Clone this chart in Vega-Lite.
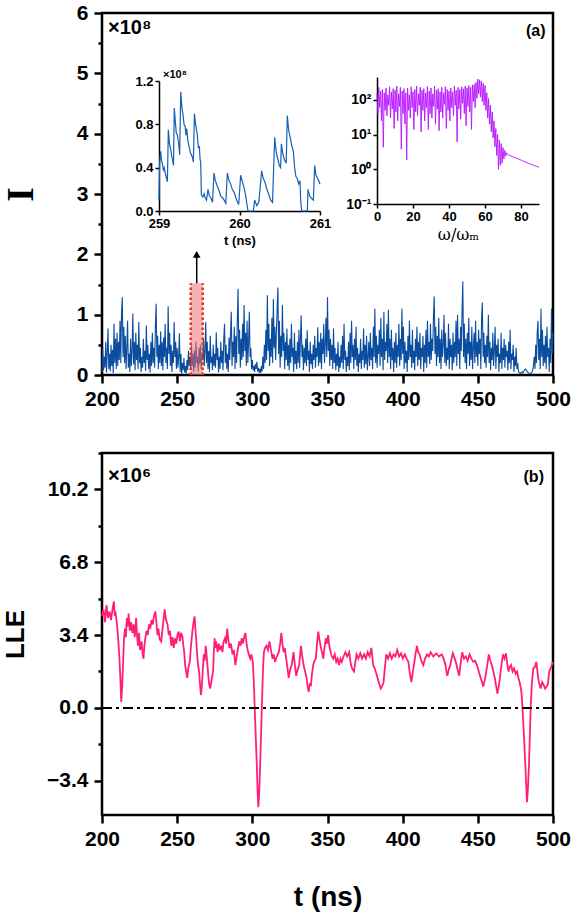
{
"$schema": "https://vega.github.io/schema/vega-lite/v6.json",
"background": "white",
"padding": {"left": 1, "top": 0, "right": 4, "bottom": 0},
"config": {
  "view": {"stroke": "black", "strokeWidth": 2.5},
  "axis": {"grid": false, "labelFlush": false, "labelOverlap": false, "tickCount": 30, "labelFont": "Liberation Sans", "labelFontWeight": "bold", "labelColor": "black", "titleColor": "black", "tickColor": "black", "domainColor": "black"},
  "text": {"font": "Liberation Sans", "color": "black"}
},
"datasets": {
"main": [
{"t":200,"I":0.05},{"t":200.5,"I":0.45},{"t":201,"I":0.08},{"t":201.5,"I":0.3},{"t":202,"I":0.12},{"t":202.5,"I":0.55},{"t":203,"I":0.04},{"t":203.5,"I":0.38},{"t":204,"I":0.77},{"t":204.5,"I":0.1},
{"t":205,"I":0.35},{"t":205.5,"I":0.06},{"t":206,"I":0.5},{"t":206.5,"I":0.15},{"t":207,"I":0.42},{"t":207.5,"I":0.03},{"t":208,"I":0.85},{"t":208.5,"I":0.2},{"t":209,"I":0.6},{"t":209.5,"I":0.1},
{"t":210,"I":0.7},{"t":210.5,"I":0.15},{"t":211,"I":0.55},{"t":211.5,"I":0.25},{"t":212,"I":0.9},{"t":212.5,"I":0.2},{"t":213,"I":1.05},{"t":213.5,"I":1.29},{"t":214,"I":0.3},{"t":214.5,"I":0.8},
{"t":215,"I":0.2},{"t":215.5,"I":0.65},{"t":216,"I":0.1},{"t":216.5,"I":0.45},{"t":217,"I":0.9},{"t":217.5,"I":0.12},{"t":218,"I":0.35},{"t":218.5,"I":0.05},{"t":219,"I":0.6},{"t":219.5,"I":0.15},
{"t":220,"I":0.4},{"t":220.5,"I":1.02},{"t":221,"I":0.18},{"t":221.5,"I":0.55},{"t":222,"I":0.08},{"t":222.5,"I":0.7},{"t":223,"I":0.25},{"t":223.5,"I":0.5},{"t":224,"I":0.1},{"t":224.5,"I":0.88},
{"t":225,"I":0.2},{"t":225.5,"I":0.45},{"t":226,"I":0.05},{"t":226.5,"I":0.3},{"t":227,"I":0.12},{"t":227.5,"I":0.6},{"t":228,"I":0.2},{"t":228.5,"I":0.4},{"t":229,"I":0.07},{"t":229.5,"I":0.82},
{"t":230,"I":0.25},{"t":230.5,"I":0.5},{"t":231,"I":0.1},{"t":231.5,"I":0.35},{"t":232,"I":0.04},{"t":232.5,"I":0.55},{"t":233,"I":0.15},{"t":233.5,"I":0.7},{"t":234,"I":0.2},{"t":234.5,"I":0.45},
{"t":235,"I":0.12},{"t":235.5,"I":0.8},{"t":236,"I":1.18},{"t":236.5,"I":0.3},{"t":237,"I":0.65},{"t":237.5,"I":0.1},{"t":238,"I":0.5},{"t":238.5,"I":0.2},{"t":239,"I":0.72},{"t":239.5,"I":0.15},
{"t":240,"I":0.55},{"t":240.5,"I":0.08},{"t":241,"I":0.62},{"t":241.5,"I":0.3},{"t":242,"I":0.85},{"t":242.5,"I":0.2},{"t":243,"I":0.45},{"t":243.5,"I":0.1},{"t":244,"I":1.14},{"t":244.5,"I":0.35},
{"t":245,"I":0.7},{"t":245.5,"I":0.15},{"t":246,"I":0.5},{"t":246.5,"I":0.05},{"t":247,"I":0.4},{"t":247.5,"I":0.2},{"t":248,"I":0.88},{"t":248.5,"I":0.3},{"t":249,"I":0.55},{"t":249.5,"I":0.1},
{"t":250,"I":0.45},{"t":250.5,"I":0.12},{"t":251,"I":0.3},{"t":251.5,"I":0.69},{"t":252,"I":0.05},{"t":252.5,"I":0.35},{"t":253,"I":0.02},{"t":253.5,"I":0.2},{"t":254,"I":0.08},{"t":254.5,"I":0.28},
{"t":255,"I":0.04},{"t":255.5,"I":0.15},{"t":256,"I":0.02},{"t":256.5,"I":0.25},{"t":257,"I":0.08},{"t":257.5,"I":0.4},{"t":258,"I":0.15},{"t":258.5,"I":0.3},{"t":259,"I":0.1},{"t":259.5,"I":0.5},
{"t":260,"I":0.15},{"t":260.5,"I":0.35},{"t":261,"I":0.05},{"t":261.5,"I":0.4},{"t":262,"I":0.12},{"t":262.5,"I":0.55},{"t":263,"I":0.2},{"t":263.5,"I":0.3},{"t":264,"I":0.06},{"t":264.5,"I":0.45},
{"t":265,"I":0.18},{"t":265.5,"I":0.5},{"t":266,"I":0.1},{"t":266.5,"I":0.35},{"t":267,"I":0.25},{"t":267.5,"I":0.6},{"t":268,"I":0.15},{"t":268.5,"I":0.4},{"t":269,"I":0.88},{"t":269.5,"I":0.2},
{"t":270,"I":0.55},{"t":270.5,"I":0.1},{"t":271,"I":0.4},{"t":271.5,"I":0.05},{"t":272,"I":0.65},{"t":272.5,"I":0.2},{"t":273,"I":0.3},{"t":273.5,"I":0.08},{"t":274,"I":0.5},{"t":274.5,"I":0.15},
{"t":275,"I":0.35},{"t":275.5,"I":0.12},{"t":276,"I":0.71},{"t":276.5,"I":0.25},{"t":277,"I":0.45},{"t":277.5,"I":0.04},{"t":278,"I":0.3},{"t":278.5,"I":0.1},{"t":279,"I":0.55},{"t":279.5,"I":0.2},
{"t":280,"I":0.4},{"t":280.5,"I":0.08},{"t":281,"I":0.6},{"t":281.5,"I":0.85},{"t":282,"I":0.2},{"t":282.5,"I":0.5},{"t":283,"I":0.1},{"t":283.5,"I":0.35},{"t":284,"I":0.05},{"t":284.5,"I":0.62},
{"t":285,"I":0.25},{"t":285.5,"I":0.7},{"t":286,"I":1.05},{"t":286.5,"I":0.15},{"t":287,"I":0.55},{"t":287.5,"I":0.3},{"t":288,"I":0.8},{"t":288.5,"I":0.1},{"t":289,"I":0.65},{"t":289.5,"I":0.2},
{"t":290,"I":0.9},{"t":290.5,"I":1.43},{"t":291,"I":0.35},{"t":291.5,"I":0.75},{"t":292,"I":0.12},{"t":292.5,"I":0.6},{"t":293,"I":0.25},{"t":293.5,"I":0.85},{"t":294,"I":0.3},{"t":294.5,"I":1.16},
{"t":295,"I":0.4},{"t":295.5,"I":0.7},{"t":296,"I":0.15},{"t":296.5,"I":0.9},{"t":297,"I":0.2},{"t":297.5,"I":0.55},{"t":298,"I":1.05},{"t":298.5,"I":0.3},{"t":299,"I":0.45},{"t":299.5,"I":0.1},
{"t":300,"I":0.25},{"t":300.5,"I":0.08},{"t":301,"I":0.15},{"t":301.5,"I":0.05},{"t":302,"I":0.18},{"t":302.5,"I":0.1},{"t":303,"I":0.22},{"t":303.5,"I":0.06},{"t":304,"I":0.12},{"t":304.5,"I":0.04},
{"t":305,"I":0.1},{"t":305.5,"I":0.03},{"t":306,"I":0.15},{"t":306.5,"I":0.06},{"t":307,"I":0.3},{"t":307.5,"I":0.1},{"t":308,"I":0.5},{"t":308.5,"I":0.2},{"t":309,"I":0.75},{"t":309.5,"I":0.25},
{"t":310,"I":1.32},{"t":310.5,"I":0.4},{"t":311,"I":0.85},{"t":311.5,"I":0.15},{"t":312,"I":0.6},{"t":312.5,"I":0.3},{"t":313,"I":0.95},{"t":313.5,"I":0.2},{"t":314,"I":1.26},{"t":314.5,"I":0.45},
{"t":315,"I":0.8},{"t":315.5,"I":0.25},{"t":316,"I":0.7},{"t":316.5,"I":1.1},{"t":317,"I":1.45},{"t":317.5,"I":0.35},{"t":318,"I":0.9},{"t":318.5,"I":0.12},{"t":319,"I":0.65},{"t":319.5,"I":0.3},
{"t":320,"I":1.16},{"t":320.5,"I":0.4},{"t":321,"I":0.7},{"t":321.5,"I":0.1},{"t":322,"I":0.55},{"t":322.5,"I":0.25},{"t":323,"I":0.77},{"t":323.5,"I":0.15},{"t":324,"I":0.5},{"t":324.5,"I":0.08},
{"t":325,"I":0.6},{"t":325.5,"I":0.2},{"t":326,"I":0.85},{"t":326.5,"I":0.3},{"t":327,"I":0.45},{"t":327.5,"I":0.05},{"t":328,"I":0.7},{"t":328.5,"I":0.18},{"t":329,"I":0.4},{"t":329.5,"I":0.1},
{"t":330,"I":0.55},{"t":330.5,"I":0.2},{"t":331,"I":0.75},{"t":331.5,"I":0.12},{"t":332,"I":0.6},{"t":332.5,"I":0.99},{"t":333,"I":0.3},{"t":333.5,"I":0.5},{"t":334,"I":0.08},{"t":334.5,"I":0.45},
{"t":335,"I":0.2},{"t":335.5,"I":0.6},{"t":336,"I":0.15},{"t":336.5,"I":0.74},{"t":337,"I":0.25},{"t":337.5,"I":0.4},{"t":338,"I":0.05},{"t":338.5,"I":0.55},{"t":339,"I":0.18},{"t":339.5,"I":0.35},
{"t":340,"I":0.1},{"t":340.5,"I":0.5},{"t":341,"I":0.25},{"t":341.5,"I":0.65},{"t":342,"I":0.12},{"t":342.5,"I":0.45},{"t":343,"I":0.3},{"t":343.5,"I":0.79},{"t":344,"I":0.15},{"t":344.5,"I":0.55},
{"t":345,"I":0.2},{"t":345.5,"I":0.7},{"t":346,"I":0.1},{"t":346.5,"I":0.6},{"t":347,"I":0.35},{"t":347.5,"I":0.85},{"t":348,"I":0.2},{"t":348.5,"I":0.5},{"t":349,"I":0.95},{"t":349.5,"I":0.3},
{"t":350,"I":1.29},{"t":350.5,"I":0.4},{"t":351,"I":0.75},{"t":351.5,"I":0.15},{"t":352,"I":0.6},{"t":352.5,"I":0.25},{"t":353,"I":0.5},{"t":353.5,"I":0.1},{"t":354,"I":0.77},{"t":354.5,"I":0.2},
{"t":355,"I":0.45},{"t":355.5,"I":0.08},{"t":356,"I":0.35},{"t":356.5,"I":0.15},{"t":357,"I":0.55},{"t":357.5,"I":0.05},{"t":358,"I":0.3},{"t":358.5,"I":0.12},{"t":359,"I":0.5},{"t":359.5,"I":0.2},
{"t":360,"I":0.65},{"t":360.5,"I":0.1},{"t":361,"I":0.85},{"t":361.5,"I":0.25},{"t":362,"I":0.4},{"t":362.5,"I":0.05},{"t":363,"I":0.3},{"t":363.5,"I":0.15},{"t":364,"I":0.55},{"t":364.5,"I":0.08},
{"t":365,"I":0.7},{"t":365.5,"I":0.2},{"t":366,"I":0.9},{"t":366.5,"I":0.3},{"t":367,"I":0.5},{"t":367.5,"I":0.1},{"t":368,"I":0.6},{"t":368.5,"I":0.25},{"t":369,"I":0.8},{"t":369.5,"I":0.15},
{"t":370,"I":0.45},{"t":370.5,"I":0.05},{"t":371,"I":0.35},{"t":371.5,"I":0.2},{"t":372,"I":0.6},{"t":372.5,"I":0.1},{"t":373,"I":0.4},{"t":373.5,"I":0.25},{"t":374,"I":0.77},{"t":374.5,"I":0.12},
{"t":375,"I":0.5},{"t":375.5,"I":0.18},{"t":376,"I":0.65},{"t":376.5,"I":0.08},{"t":377,"I":0.3},{"t":377.5,"I":0.55},{"t":378,"I":0.15},{"t":378.5,"I":0.7},{"t":379,"I":0.25},{"t":379.5,"I":0.45},
{"t":380,"I":0.1},{"t":380.5,"I":0.8},{"t":381,"I":0.3},{"t":381.5,"I":1.1},{"t":382,"I":0.2},{"t":382.5,"I":0.65},{"t":383,"I":0.12},{"t":383.5,"I":0.5},{"t":384,"I":0.35},{"t":384.5,"I":0.75},
{"t":385,"I":0.15},{"t":385.5,"I":0.95},{"t":386,"I":0.3},{"t":386.5,"I":0.6},{"t":387,"I":0.08},{"t":387.5,"I":1.05},{"t":388,"I":0.25},{"t":388.5,"I":0.55},{"t":389,"I":0.4},{"t":389.5,"I":0.85},
{"t":390,"I":0.2},{"t":390.5,"I":1.08},{"t":391,"I":0.3},{"t":391.5,"I":0.6},{"t":392,"I":0.1},{"t":392.5,"I":0.75},{"t":393,"I":0.25},{"t":393.5,"I":0.45},{"t":394,"I":0.05},{"t":394.5,"I":0.55},
{"t":395,"I":0.2},{"t":395.5,"I":0.7},{"t":396,"I":0.12},{"t":396.5,"I":0.5},{"t":397,"I":0.3},{"t":397.5,"I":0.85},{"t":398,"I":0.15},{"t":398.5,"I":0.6},{"t":399,"I":0.25},{"t":399.5,"I":1.1},
{"t":400,"I":0.35},{"t":400.5,"I":0.8},{"t":401,"I":0.1},{"t":401.5,"I":0.55},{"t":402,"I":0.2},{"t":402.5,"I":0.4},{"t":403,"I":0.05},{"t":403.5,"I":0.65},{"t":404,"I":0.25},{"t":404.5,"I":0.9},
{"t":405,"I":0.3},{"t":405.5,"I":0.5},{"t":406,"I":0.12},{"t":406.5,"I":0.75},{"t":407,"I":0.2},{"t":407.5,"I":0.4},{"t":408,"I":0.08},{"t":408.5,"I":0.6},{"t":409,"I":0.3},{"t":409.5,"I":0.8},
{"t":410,"I":0.15},{"t":410.5,"I":0.55},{"t":411,"I":0.25},{"t":411.5,"I":0.7},{"t":412,"I":0.1},{"t":412.5,"I":0.45},{"t":413,"I":0.3},{"t":413.5,"I":0.65},{"t":414,"I":0.05},{"t":414.5,"I":0.5},
{"t":415,"I":0.2},{"t":415.5,"I":0.75},{"t":416,"I":0.12},{"t":416.5,"I":0.9},{"t":417,"I":0.3},{"t":417.5,"I":0.55},{"t":418,"I":0.18},{"t":418.5,"I":0.85},{"t":419,"I":0.25},{"t":419.5,"I":0.6},
{"t":420,"I":0.4},{"t":420.5,"I":1.0},{"t":421,"I":1.3},{"t":421.5,"I":0.35},{"t":422,"I":0.8},{"t":422.5,"I":0.15},{"t":423,"I":0.65},{"t":423.5,"I":0.3},{"t":424,"I":0.95},{"t":424.5,"I":0.2},
{"t":425,"I":0.6},{"t":425.5,"I":0.1},{"t":426,"I":0.75},{"t":426.5,"I":0.3},{"t":427,"I":0.5},{"t":427.5,"I":1.0},{"t":428,"I":0.2},{"t":428.5,"I":0.7},{"t":429,"I":0.15},{"t":429.5,"I":0.45},
{"t":430,"I":0.25},{"t":430.5,"I":0.85},{"t":431,"I":0.1},{"t":431.5,"I":0.6},{"t":432,"I":0.3},{"t":432.5,"I":0.5},{"t":433,"I":0.08},{"t":433.5,"I":0.7},{"t":434,"I":0.2},{"t":434.5,"I":0.55},
{"t":435,"I":0.3},{"t":435.5,"I":0.9},{"t":436,"I":0.15},{"t":436.5,"I":1.0},{"t":437,"I":0.35},{"t":437.5,"I":0.6},{"t":438,"I":0.1},{"t":438.5,"I":0.8},{"t":439,"I":0.4},{"t":439.5,"I":1.05},
{"t":440,"I":1.55},{"t":440.5,"I":0.3},{"t":441,"I":0.85},{"t":441.5,"I":0.2},{"t":442,"I":0.6},{"t":442.5,"I":0.1},{"t":443,"I":0.7},{"t":443.5,"I":0.35},{"t":444,"I":0.95},{"t":444.5,"I":0.15},
{"t":445,"I":0.55},{"t":445.5,"I":0.25},{"t":446,"I":0.8},{"t":446.5,"I":0.1},{"t":447,"I":0.45},{"t":447.5,"I":0.7},{"t":448,"I":0.2},{"t":448.5,"I":0.9},{"t":449,"I":0.3},{"t":449.5,"I":0.55},
{"t":450,"I":0.15},{"t":450.5,"I":0.75},{"t":451,"I":0.35},{"t":451.5,"I":0.6},{"t":452,"I":0.1},{"t":452.5,"I":0.95},{"t":453,"I":1.2},{"t":453.5,"I":0.3},{"t":454,"I":0.7},{"t":454.5,"I":0.2},
{"t":455,"I":0.5},{"t":455.5,"I":0.12},{"t":456,"I":0.65},{"t":456.5,"I":0.3},{"t":457,"I":1.0},{"t":457.5,"I":0.2},{"t":458,"I":0.55},{"t":458.5,"I":0.08},{"t":459,"I":0.45},{"t":459.5,"I":0.25},
{"t":460,"I":0.7},{"t":460.5,"I":0.15},{"t":461,"I":0.4},{"t":461.5,"I":0.8},{"t":462,"I":0.1},{"t":462.5,"I":0.5},{"t":463,"I":0.3},{"t":463.5,"I":0.6},{"t":464,"I":0.05},{"t":464.5,"I":0.35},
{"t":465,"I":0.2},{"t":465.5,"I":0.7},{"t":466,"I":0.1},{"t":466.5,"I":0.45},{"t":467,"I":0.25},{"t":467.5,"I":0.6},{"t":468,"I":0.12},{"t":468.5,"I":0.5},{"t":469,"I":0.3},{"t":469.5,"I":0.4},
{"t":470,"I":0.08},{"t":470.5,"I":0.55},{"t":471,"I":0.2},{"t":471.5,"I":0.75},{"t":472,"I":0.1},{"t":472.5,"I":0.35},{"t":473,"I":0.25},{"t":473.5,"I":0.5},{"t":474,"I":0.05},{"t":474.5,"I":0.3},
{"t":475,"I":0.15},{"t":475.5,"I":0.45},{"t":476,"I":0.1},{"t":476.5,"I":0.2},{"t":477,"I":0.06},{"t":477.5,"I":0.04},{"t":478,"I":0.03},{"t":478.5,"I":0.04},{"t":479,"I":0.03},{"t":479.5,"I":0.05},
{"t":480,"I":0.04},{"t":480.5,"I":0.06},{"t":481,"I":0.08},{"t":481.5,"I":0.1},{"t":482,"I":0.09},{"t":482.5,"I":0.07},{"t":483,"I":0.05},{"t":483.5,"I":0.04},{"t":484,"I":0.03},{"t":484.5,"I":0.02},
{"t":485,"I":0.02},{"t":485.5,"I":0.03},{"t":486,"I":0.05},{"t":486.5,"I":0.08},{"t":487,"I":0.15},{"t":487.5,"I":0.3},{"t":488,"I":0.1},{"t":488.5,"I":0.5},{"t":489,"I":0.2},{"t":489.5,"I":0.7},
{"t":490,"I":0.9},{"t":490.5,"I":0.25},{"t":491,"I":0.6},{"t":491.5,"I":0.1},{"t":492,"I":1.1},{"t":492.5,"I":0.3},{"t":493,"I":0.75},{"t":493.5,"I":0.15},{"t":494,"I":0.5},{"t":494.5,"I":0.2},
{"t":495,"I":0.65},{"t":495.5,"I":0.1},{"t":496,"I":0.8},{"t":496.5,"I":0.3},{"t":497,"I":0.45},{"t":497.5,"I":0.05},{"t":498,"I":0.6},{"t":498.5,"I":0.2},{"t":499,"I":1.1},{"t":499.5,"I":0.35},{"t":500,"I":0.7}
],
"zoom": [
{"t":259.000,"I":0.10},{"t":259.008,"I":0.45},{"t":259.021,"I":0.55},{"t":259.030,"I":0.47},{"t":259.041,"I":0.44},{"t":259.055,"I":0.38},{"t":259.065,"I":0.40},{"t":259.083,"I":0.33},{"t":259.095,"I":0.30},{"t":259.104,"I":0.27},
{"t":259.116,"I":0.75},{"t":259.130,"I":0.62},{"t":259.145,"I":0.57},{"t":259.155,"I":0.52},{"t":259.166,"I":0.48},{"t":259.180,"I":0.42},{"t":259.190,"I":0.95},{"t":259.200,"I":0.85},{"t":259.215,"I":0.72},{"t":259.228,"I":0.70},
{"t":259.245,"I":0.62},{"t":259.257,"I":0.52},{"t":259.270,"I":1.10},{"t":259.285,"I":0.95},{"t":259.300,"I":0.88},{"t":259.311,"I":0.80},{"t":259.325,"I":0.78},{"t":259.335,"I":0.70},{"t":259.344,"I":0.76},{"t":259.358,"I":0.65},
{"t":259.372,"I":0.60},{"t":259.385,"I":0.55},{"t":259.400,"I":0.52},{"t":259.415,"I":0.50},{"t":259.427,"I":0.45},{"t":259.440,"I":0.90},{"t":259.455,"I":0.80},{"t":259.476,"I":0.70},{"t":259.490,"I":0.58},{"t":259.501,"I":0.60},
{"t":259.510,"I":0.48},{"t":259.518,"I":0.45},{"t":259.526,"I":0.15},{"t":259.545,"I":0.13},{"t":259.560,"I":0.16},{"t":259.575,"I":0.12},{"t":259.590,"I":0.10},{"t":259.609,"I":0.20},{"t":259.625,"I":0.14},{"t":259.645,"I":0.12},
{"t":259.665,"I":0.08},{"t":259.683,"I":0.35},{"t":259.700,"I":0.28},{"t":259.715,"I":0.25},{"t":259.730,"I":0.22},{"t":259.750,"I":0.18},{"t":259.766,"I":0.14},{"t":259.790,"I":0.12},{"t":259.810,"I":0.10},{"t":259.830,"I":0.07},
{"t":259.849,"I":0.35},{"t":259.870,"I":0.28},{"t":259.890,"I":0.25},{"t":259.910,"I":0.20},{"t":259.935,"I":0.17},{"t":259.965,"I":0.10},{"t":259.990,"I":0.06},{"t":260.014,"I":0.33},{"t":260.035,"I":0.27},{"t":260.055,"I":0.22},
{"t":260.075,"I":0.15},{"t":260.097,"I":0.04},{"t":260.106,"I":0.0},{"t":260.172,"I":0.0},{"t":260.188,"I":0.10},{"t":260.215,"I":0.05},{"t":260.240,"I":0.08},{"t":260.275,"I":0.37},{"t":260.295,"I":0.30},{"t":260.315,"I":0.27},
{"t":260.340,"I":0.20},{"t":260.365,"I":0.15},{"t":260.387,"I":0.10},{"t":260.410,"I":0.08},{"t":260.437,"I":0.68},{"t":260.455,"I":0.55},{"t":260.475,"I":0.48},{"t":260.495,"I":0.42},{"t":260.511,"I":0.40},{"t":260.520,"I":0.62},
{"t":260.540,"I":0.52},{"t":260.560,"I":0.47},{"t":260.580,"I":0.44},{"t":260.594,"I":0.88},{"t":260.610,"I":0.75},{"t":260.630,"I":0.68},{"t":260.650,"I":0.60},{"t":260.669,"I":0.55},{"t":260.685,"I":0.40},{"t":260.700,"I":0.32},
{"t":260.718,"I":0.30},{"t":260.735,"I":0.25},{"t":260.751,"I":0.28},{"t":260.760,"I":0.10},{"t":260.772,"I":0.0},{"t":260.843,"I":0.0},{"t":260.851,"I":0.20},{"t":260.870,"I":0.14},{"t":260.890,"I":0.12},{"t":260.917,"I":0.10},
{"t":260.934,"I":0.42},{"t":260.950,"I":0.33},{"t":260.970,"I":0.30},{"t":260.985,"I":0.28},{"t":261.000,"I":0.25}
],
"spec": [
{"w":0,"P":150},{"w":0.5,"P":40},{"w":1,"P":230},{"w":1.5,"P":60},{"w":2,"P":180},{"w":2.5,"P":25},{"w":3,"P":200},{"w":3.5,"P":4.3},{"w":4,"P":160},{"w":4.5,"P":50},
{"w":5,"P":220},{"w":5.5,"P":35},{"w":6,"P":140},{"w":6.5,"P":70},{"w":7,"P":240},{"w":7.5,"P":30},{"w":8,"P":170},{"w":8.5,"P":55},{"w":9,"P":210},{"w":9.5,"P":15},
{"w":10,"P":190},{"w":10.5,"P":45},{"w":11,"P":250},{"w":11.5,"P":25},{"w":12,"P":150},{"w":12.5,"P":65},{"w":13,"P":230},{"w":13.5,"P":3.8},{"w":14,"P":180},{"w":14.5,"P":40},
{"w":15,"P":210},{"w":15.5,"P":20},{"w":16,"P":160},{"w":16.5,"P":1.85},{"w":17,"P":220},{"w":17.5,"P":50},{"w":18,"P":140},{"w":18.5,"P":30},{"w":19,"P":240},{"w":19.5,"P":60},
{"w":20,"P":170},{"w":20.5,"P":14},{"w":21,"P":200},{"w":21.5,"P":45},{"w":22,"P":250},{"w":22.5,"P":35},{"w":23,"P":150},{"w":23.5,"P":70},{"w":24,"P":230},{"w":24.5,"P":12},
{"w":25,"P":190},{"w":25.5,"P":50},{"w":26,"P":210},{"w":26.5,"P":25},{"w":27,"P":160},{"w":27.5,"P":60},{"w":28,"P":240},{"w":28.5,"P":14},{"w":29,"P":180},{"w":29.5,"P":40},
{"w":30,"P":220},{"w":30.5,"P":30},{"w":31,"P":150},{"w":31.5,"P":65},{"w":32,"P":250},{"w":32.5,"P":20},{"w":33,"P":190},{"w":33.5,"P":55},{"w":34,"P":210},{"w":34.5,"P":13},
{"w":35,"P":170},{"w":35.5,"P":45},{"w":36,"P":230},{"w":36.5,"P":30},{"w":37,"P":160},{"w":37.5,"P":75},{"w":38,"P":240},{"w":38.5,"P":15},{"w":39,"P":200},{"w":39.5,"P":50},
{"w":40,"P":180},{"w":40.5,"P":25},{"w":41,"P":220},{"w":41.5,"P":60},{"w":42,"P":170},{"w":42.5,"P":35},{"w":43,"P":250},{"w":43.5,"P":70},{"w":44,"P":190},{"w":44.5,"P":6.2},
{"w":45,"P":230},{"w":45.5,"P":55},{"w":46,"P":200},{"w":46.5,"P":28},{"w":47,"P":240},{"w":47.5,"P":80},{"w":48,"P":210},{"w":48.5,"P":40},{"w":49,"P":250},{"w":49.5,"P":18},
{"w":50,"P":220},{"w":50.5,"P":65},{"w":51,"P":260},{"w":51.5,"P":45},{"w":52,"P":230},{"w":52.5,"P":14},{"w":53,"P":270},{"w":53.5,"P":90},{"w":54,"P":280},{"w":54.5,"P":60},
{"w":55,"P":320},{"w":55.5,"P":110},{"w":56,"P":395},{"w":56.5,"P":150},{"w":57,"P":380},{"w":57.5,"P":120},{"w":58,"P":350},{"w":58.5,"P":90},{"w":59,"P":300},{"w":59.5,"P":70},
{"w":60,"P":260},{"w":60.5,"P":50},{"w":61,"P":160},{"w":61.5,"P":30},{"w":62,"P":110},{"w":62.5,"P":20},{"w":63,"P":70},{"w":63.5,"P":12},{"w":64,"P":45},{"w":64.5,"P":8},
{"w":65,"P":25},{"w":65.5,"P":4.5},{"w":66,"P":15},{"w":66.5,"P":2.5},{"w":67,"P":10},{"w":67.5,"P":1.0},{"w":68,"P":7},{"w":68.5,"P":1.3},{"w":69,"P":5.5},{"w":69.5,"P":1.5},
{"w":70,"P":4.2},{"w":70.5,"P":2.0},{"w":71,"P":3.5},{"w":71.5,"P":2.4},{"w":72,"P":3.0},{"w":72.5,"P":2.7},{"w":73,"P":2.6},{"w":75,"P":2.35},{"w":78,"P":2.05},{"w":81,"P":1.75},
{"w":84,"P":1.5},{"w":87,"P":1.3},{"w":90,"P":1.15}
],
"lle": [
{"t":200,"v":4.3},{"t":201,"v":4.6},{"t":202,"v":4.0},{"t":203,"v":4.8},{"t":204,"v":4.2},{"t":205,"v":4.5},{"t":206,"v":4.1},{"t":207,"v":4.6},{"t":207.9,"v":4.97},{"t":208.5,"v":4.3},
{"t":209.1,"v":4.4},{"t":209.8,"v":4.0},{"t":210.4,"v":3.56},{"t":211,"v":3.0},{"t":211.6,"v":2.3},{"t":212.2,"v":1.4},{"t":212.8,"v":0.28},{"t":213.4,"v":1.0},{"t":214,"v":2.0},{"t":214.6,"v":3.2},
{"t":215.3,"v":3.7},{"t":215.9,"v":3.3},{"t":216.5,"v":4.2},{"t":217.1,"v":3.8},{"t":217.7,"v":4.4},{"t":218.5,"v":3.6},{"t":219.3,"v":4.0},{"t":220.2,"v":3.5},{"t":221,"v":3.9},{"t":221.8,"v":3.3},
{"t":222.7,"v":4.2},{"t":223.3,"v":3.4},{"t":223.9,"v":2.9},{"t":224.6,"v":3.5},{"t":225.3,"v":2.7},{"t":226.4,"v":3.1},{"t":227,"v":2.5},{"t":227.6,"v":2.3},{"t":228.2,"v":2.9},{"t":228.8,"v":3.25},
{"t":229.6,"v":3.6},{"t":230.4,"v":3.4},{"t":231.3,"v":3.9},{"t":232.1,"v":3.7},{"t":232.9,"v":4.1},{"t":233.8,"v":3.9},{"t":234.6,"v":4.3},{"t":235.5,"v":4.5},{"t":236.2,"v":4.0},{"t":236.9,"v":3.4},
{"t":237.5,"v":3.7},{"t":238.4,"v":3.2},{"t":239.4,"v":3.1},{"t":240.1,"v":3.6},{"t":240.9,"v":4.1},{"t":241.7,"v":4.6},{"t":242.6,"v":4.1},{"t":243.6,"v":3.9},{"t":244.4,"v":3.4},{"t":245.2,"v":3.6},
{"t":246.1,"v":2.9},{"t":246.9,"v":3.3},{"t":247.7,"v":2.8},{"t":248.6,"v":3.25},{"t":249.4,"v":3.0},{"t":250.2,"v":3.4},{"t":251,"v":3.56},{"t":251.8,"v":3.1},{"t":252.6,"v":3.5},{"t":253.5,"v":3.33},
{"t":254.1,"v":2.9},{"t":254.7,"v":2.6},{"t":255.3,"v":2.0},{"t":256,"v":1.7},{"t":256.7,"v":1.4},{"t":257.5,"v":1.9},{"t":258.4,"v":2.15},{"t":259.2,"v":2.9},{"t":260.1,"v":3.56},{"t":260.9,"v":4.0},
{"t":261.6,"v":4.27},{"t":262.1,"v":3.7},{"t":262.6,"v":3.25},{"t":263.2,"v":2.6},{"t":263.9,"v":2.0},{"t":264.6,"v":1.7},{"t":265.2,"v":1.1},{"t":265.8,"v":0.6},{"t":266.4,"v":1.0},{"t":267,"v":1.7},
{"t":267.7,"v":2.5},{"t":268.3,"v":2.2},{"t":269,"v":2.9},{"t":269.8,"v":2.3},{"t":270.7,"v":1.5},{"t":271.3,"v":1.1},{"t":272,"v":0.9},{"t":272.9,"v":1.3},{"t":273.9,"v":1.7},{"t":274.4,"v":2.6},
{"t":274.9,"v":3.25},{"t":275.4,"v":2.8},{"t":275.9,"v":3.1},{"t":276.9,"v":2.6},{"t":277.7,"v":3.0},{"t":278.5,"v":2.7},{"t":279.4,"v":2.9},{"t":280.1,"v":2.6},{"t":280.9,"v":3.1},{"t":281.8,"v":3.25},
{"t":282.5,"v":3.0},{"t":283.3,"v":3.7},{"t":284,"v":3.2},{"t":284.8,"v":2.8},{"t":285.8,"v":3.0},{"t":286.8,"v":2.5},{"t":287.7,"v":2.7},{"t":288.7,"v":2.0},{"t":289.6,"v":2.4},{"t":290.5,"v":2.8},
{"t":291.3,"v":3.1},{"t":292.1,"v":2.9},{"t":292.9,"v":3.25},{"t":293.7,"v":3.0},{"t":294.5,"v":3.3},{"t":295.4,"v":3.5},{"t":296,"v":3.1},{"t":296.6,"v":2.8},{"t":297.6,"v":2.5},{"t":298.6,"v":2.3},
{"t":299.4,"v":2.5},{"t":300.3,"v":2.15},{"t":301,"v":1.2},{"t":301.6,"v":0.0},{"t":302.3,"v":-1.4},{"t":303,"v":-2.7},{"t":303.5,"v":-3.9},{"t":304,"v":-4.64},{"t":304.6,"v":-3.9},{"t":305.2,"v":-2.7},
{"t":305.9,"v":-1.0},{"t":306.5,"v":0.44},{"t":307.1,"v":1.8},{"t":307.7,"v":2.6},{"t":308.5,"v":2.8},{"t":309.4,"v":2.9},{"t":310.4,"v":2.7},{"t":311.4,"v":3.1},{"t":312.4,"v":2.7},{"t":313.4,"v":2.3},
{"t":314.2,"v":2.5},{"t":315.1,"v":2.15},{"t":316.3,"v":2.4},{"t":317.6,"v":2.6},{"t":318.5,"v":3.0},{"t":319.3,"v":3.5},{"t":320,"v":3.0},{"t":320.8,"v":2.6},{"t":321.6,"v":2.8},{"t":322.5,"v":2.3},
{"t":323.3,"v":1.9},{"t":324.2,"v":1.4},{"t":325.2,"v":1.8},{"t":326.2,"v":2.0},{"t":326.8,"v":2.3},{"t":327.4,"v":2.6},{"t":328.3,"v":2.0},{"t":329.2,"v":1.5},{"t":330.2,"v":1.8},{"t":331.2,"v":2.0},
{"t":331.8,"v":2.5},{"t":332.4,"v":2.9},{"t":333.2,"v":2.4},{"t":334.1,"v":2.0},{"t":335.1,"v":1.7},{"t":336.1,"v":1.4},{"t":336.8,"v":1.0},{"t":337.5,"v":0.75},{"t":338.2,"v":1.1},{"t":339,"v":1.06},
{"t":339.7,"v":1.6},{"t":340.5,"v":2.0},{"t":341.3,"v":2.2},{"t":342.2,"v":2.3},{"t":343,"v":3.0},{"t":343.9,"v":3.56},{"t":344.6,"v":3.2},{"t":345.4,"v":2.9},{"t":346.3,"v":2.6},{"t":347.2,"v":2.3},
{"t":348,"v":2.8},{"t":348.9,"v":3.25},{"t":349.6,"v":3.0},{"t":350.4,"v":3.4},{"t":351.2,"v":2.9},{"t":352.1,"v":2.6},{"t":352.9,"v":2.4},{"t":353.8,"v":2.3},{"t":354.8,"v":2.5},{"t":355.8,"v":2.15},
{"t":356.7,"v":2.3},{"t":357.7,"v":2.0},{"t":358.6,"v":2.3},{"t":359.5,"v":2.15},{"t":360.7,"v":2.4},{"t":361.9,"v":2.6},{"t":363.1,"v":2.4},{"t":364.4,"v":2.6},{"t":365,"v":2.3},{"t":365.6,"v":2.0},
{"t":366.6,"v":1.8},{"t":367.6,"v":1.7},{"t":368.5,"v":2.1},{"t":369.3,"v":2.5},{"t":370.5,"v":2.3},{"t":371.8,"v":2.55},{"t":373,"v":2.3},{"t":374.3,"v":2.5},{"t":375.5,"v":2.3},{"t":376.7,"v":2.6},
{"t":378,"v":2.4},{"t":379.2,"v":2.8},{"t":379.8,"v":2.4},{"t":380.4,"v":2.0},{"t":381.6,"v":1.8},{"t":382.9,"v":1.5},{"t":384.1,"v":1.2},{"t":385.4,"v":0.9},{"t":386.3,"v":1.0},{"t":387.3,"v":1.2},
{"t":388.2,"v":1.9},{"t":389.1,"v":2.5},{"t":390.3,"v":2.3},{"t":391.5,"v":2.55},{"t":392.7,"v":2.3},{"t":394,"v":2.5},{"t":395.2,"v":2.4},{"t":396.4,"v":2.7},{"t":397.6,"v":2.4},{"t":398.9,"v":2.55},
{"t":400.1,"v":2.3},{"t":401.4,"v":2.5},{"t":402.6,"v":2.3},{"t":403.8,"v":2.15},{"t":404.8,"v":1.6},{"t":405.8,"v":1.2},{"t":406.6,"v":1.6},{"t":407.5,"v":2.0},{"t":408.5,"v":2.5},{"t":409.5,"v":2.9},
{"t":410.3,"v":2.6},{"t":411.2,"v":2.5},{"t":412.4,"v":2.2},{"t":413.7,"v":2.0},{"t":414.9,"v":2.3},{"t":416.2,"v":2.5},{"t":417.4,"v":2.4},{"t":418.6,"v":2.6},{"t":420.4,"v":2.4},{"t":422.3,"v":2.55},
{"t":424.1,"v":2.4},{"t":426,"v":2.5},{"t":427.2,"v":2.3},{"t":428.5,"v":2.0},{"t":429.1,"v":1.7},{"t":429.7,"v":1.5},{"t":430.7,"v":1.8},{"t":431.7,"v":2.0},{"t":432.5,"v":2.3},{"t":433.4,"v":2.55},
{"t":434.6,"v":2.3},{"t":435.9,"v":2.0},{"t":436.8,"v":1.7},{"t":437.6,"v":1.5},{"t":438.6,"v":2.1},{"t":439.6,"v":2.6},{"t":440.8,"v":2.3},{"t":442,"v":2.4},{"t":443.2,"v":2.2},{"t":444.5,"v":2.5},
{"t":445.7,"v":2.3},{"t":447,"v":2.15},{"t":448.2,"v":2.2},{"t":449.4,"v":2.0},{"t":450.6,"v":1.7},{"t":451.9,"v":1.4},{"t":452.8,"v":1.2},{"t":453.6,"v":1.0},{"t":454.6,"v":1.3},{"t":455.6,"v":1.7},
{"t":456.5,"v":2.1},{"t":457.3,"v":2.5},{"t":458.3,"v":2.2},{"t":459.3,"v":2.0},{"t":460.3,"v":1.7},{"t":461.3,"v":1.4},{"t":462.2,"v":1.0},{"t":463,"v":0.67},{"t":463.9,"v":1.0},{"t":464.7,"v":1.4},
{"t":465.7,"v":2.0},{"t":466.7,"v":2.5},{"t":467.7,"v":2.3},{"t":468.7,"v":2.55},{"t":469.5,"v":2.1},{"t":470.4,"v":1.7},{"t":471.2,"v":1.9},{"t":472.1,"v":2.0},{"t":473.1,"v":1.7},{"t":474.1,"v":1.85},
{"t":475.1,"v":1.6},{"t":476.1,"v":1.7},{"t":477,"v":1.4},{"t":477.8,"v":1.2},{"t":478.4,"v":1.0},{"t":479,"v":0.75},{"t":479.7,"v":0.0},{"t":480.3,"v":-0.8},{"t":480.9,"v":-1.6},{"t":481.5,"v":-2.5},
{"t":482.1,"v":-3.5},{"t":482.7,"v":-4.4},{"t":483.3,"v":-3.8},{"t":484,"v":-2.7},{"t":484.6,"v":-1.3},{"t":485.2,"v":0.12},{"t":486,"v":1.2},{"t":486.9,"v":1.85},{"t":487.9,"v":1.9},{"t":488.9,"v":2.15},
{"t":489.5,"v":1.8},{"t":490.1,"v":1.4},{"t":491,"v":1.1},{"t":491.8,"v":0.9},{"t":492.8,"v":1.2},{"t":493.8,"v":1.06},{"t":494.8,"v":0.9},{"t":495.8,"v":1.0},{"t":496.6,"v":1.1},{"t":497.5,"v":1.7},
{"t":498.7,"v":1.9},{"t":500,"v":2.15}
]
},
"spacing": 78,
"bounds": "flush",
"vconcat": [
{
  "width": 451,
  "height": 362,
  "layer": [
    {
      "encoding": {
        "x": {"field": "t", "type": "quantitative", "scale": {"domain": [200, 500], "nice": false, "zero": false},
          "axis": {"orient": "bottom", "values": [200, 250, 300, 350, 400, 450, 500], "tickCount": 30, "format": "d", "labelFontSize": 21, "tickSize": 8, "tickWidth": 2.5, "domain": false, "labelPadding": 5, "title": null}},
        "y": {"field": "I", "type": "quantitative", "scale": {"domain": [0, 6], "nice": false, "zero": false},
          "axis": {"orient": "left", "values": [0, 0.5, 1, 1.5, 2, 2.5, 3, 3.5, 4, 4.5, 5, 5.5, 6], "tickCount": 30, "labelExpr": "datum.value % 1 == 0 ? format(datum.value, 'd') : ''",
            "tickSize": {"condition": {"test": "datum.value % 1 != 0", "value": 4}, "value": 8}, "tickWidth": 2.5, "domain": false, "labelFontSize": 21, "labelPadding": 6,
            "title": "I", "titleFont": "Liberation Serif", "titleFontSize": 37, "titleFontWeight": "bold", "titlePadding": 36}}
      },
      "layer": [
        {
          "data": {"name": "main"},
          "mark": {"type": "line", "color": "#0a4c9e", "strokeWidth": 1.1}
        },
        {
          "data": {"values": [{"t": 259, "t2": 267, "I": 0, "I2": 1.52}]},
          "mark": {"type": "rect", "color": "#f07070", "opacity": 0.55},
          "encoding": {"x2": {"field": "t2"}, "y2": {"field": "I2"}}
        },
        {
          "data": {"values": [{"t": 259, "I": 0, "I2": 1.52}, {"t": 267, "I": 0, "I2": 1.52}]},
          "mark": {"type": "rule", "color": "#e8321e", "strokeWidth": 2.5, "strokeDash": [2.5, 2.5]},
          "encoding": {"y2": {"field": "I2"}}
        },
        {
          "data": {"values": [{"t": 263, "I": 1.52, "I2": 1.98}]},
          "mark": {"type": "rule", "color": "black", "strokeWidth": 1.5},
          "encoding": {"y2": {"field": "I2"}}
        },
        {
          "data": {"values": [{"t": 263, "I": 2.0}]},
          "mark": {"type": "point", "shape": "triangle-up", "filled": true, "color": "black", "size": 60, "opacity": 1}
        },
        {
          "data": {"values": [{"t": 204, "I": 5.66, "label": "×10⁸"}]},
          "mark": {"type": "text", "align": "left", "baseline": "alphabetic", "fontSize": 20, "fontWeight": "bold"},
          "encoding": {"text": {"field": "label"}}
        },
        {
          "data": {"values": [{"t": 495, "I": 5.62, "label": "(a)"}]},
          "mark": {"type": "text", "align": "right", "baseline": "alphabetic", "fontSize": 16, "fontWeight": "bold"},
          "encoding": {"text": {"field": "label"}}
        }
      ]
    },
    {
      "encoding": {
        "x": {"field": "t", "type": "quantitative", "scale": {"domain": [259, 261], "range": [57, 218], "nice": false, "zero": false},
          "axis": {"orient": "bottom", "offset": -164, "values": [259, 259.5, 260, 260.5, 261], "tickCount": 30, "labelExpr": "datum.value % 1 == 0 ? format(datum.value, 'd') : ''", "tickOpacity": {"condition": {"test": "datum.value % 1 != 0", "value": 0}, "value": 1}, "labelOverlap": false, "labelFontSize": 13, "tickSize": 4, "tickWidth": 1.5, "domain": true, "domainWidth": 1.5, "labelPadding": 2,
            "title": "t (ns)", "titleFont": "Liberation Sans", "titleFontSize": 13, "titleFontWeight": "bold", "titlePadding": 4}},
        "y": {"field": "I", "type": "quantitative", "scale": {"domain": [0, 1.2], "range": [198, 68], "nice": false, "zero": false},
          "axis": {"orient": "left", "offset": -57, "values": [0, 0.4, 0.8, 1.2], "tickCount": 30, "format": ".1f", "labelFontSize": 13, "tickSize": 4, "tickWidth": 1.5, "domain": true, "domainWidth": 1.5, "labelPadding": 2, "title": null}}
      },
      "layer": [
        {
          "data": {"name": "zoom"},
          "mark": {"type": "line", "color": "#1560b8", "strokeWidth": 1.2}
        },
        {
          "data": {"values": [{"t": 259.05, "I": 1.23, "label": "×10⁸"}]},
          "mark": {"type": "text", "align": "left", "baseline": "alphabetic", "fontSize": 11, "fontWeight": "bold"},
          "encoding": {"text": {"field": "label"}}
        }
      ]
    },
    {
      "data": {"name": "spec"},
      "mark": {"type": "line", "color": "#b513ff", "strokeWidth": 0.9},
      "encoding": {
        "x": {"field": "w", "type": "quantitative", "scale": {"domain": [0, 90], "range": [275, 437], "nice": false, "zero": false},
          "axis": {"orient": "bottom", "offset": -171, "values": [0, 20, 40, 60, 80], "tickCount": 30, "format": "d", "labelFontSize": 13, "tickSize": 4, "tickWidth": 1.5, "domain": true, "domainWidth": 1.5, "labelPadding": 2,
            "title": "ω/ωₘ", "titleFont": "DejaVu Serif", "titleFontSize": 16, "titleFontWeight": "normal", "titlePadding": 3}},
        "y": {"field": "P", "type": "quantitative", "scale": {"type": "log", "domain": [0.1, 457], "range": [191, 64], "nice": false, "zero": false},
          "axis": {"orient": "left", "offset": -275, "values": [0.1, 1, 10, 100], "tickCount": 30, "labelExpr": "datum.value < 0.5 ? '10⁻¹' : datum.value < 5 ? '10⁰' : datum.value < 50 ? '10¹' : '10²'", "labelFontSize": 14, "tickSize": 4, "tickWidth": 1.5, "domain": true, "domainWidth": 1.5, "labelPadding": 2, "title": null}}
      }
    }
  ],
  "resolve": {"scale": {"x": "independent", "y": "independent"}, "axis": {"x": "independent", "y": "independent"}}
},
{
  "width": 451,
  "height": 362,
  "encoding": {
    "x": {"field": "t", "type": "quantitative", "scale": {"domain": [200, 500], "nice": false, "zero": false},
      "axis": {"orient": "bottom", "values": [200, 250, 300, 350, 400, 450, 500], "tickCount": 30, "format": "d", "labelFontSize": 21, "tickSize": 8, "tickWidth": 2.5, "domain": false, "labelPadding": 5,
        "title": "t (ns)", "titleFont": "Liberation Sans", "titleFontSize": 28, "titleFontWeight": "bold", "titlePadding": 34}},
    "y": {"field": "v", "type": "quantitative", "scale": {"domain": [-5, 11.9], "nice": false, "zero": false},
      "axis": {"orient": "left", "values": [-3.4, -1.7, 0, 1.7, 3.4, 5.1, 6.8, 8.5, 10.2, 11.9], "tickCount": 30, "format": ".1f",
        "labelExpr": "abs(datum.value - 3.4*round(datum.value/3.4)) < 0.01 ? datum.label : ''",
        "tickSize": {"condition": {"test": "abs(datum.value - 3.4*round(datum.value/3.4)) > 0.01", "value": 4}, "value": 8}, "tickWidth": 2.5, "domain": false, "labelFontSize": 21, "labelPadding": 6,
        "title": "LLE", "titleFont": "Liberation Sans", "titleFontSize": 26, "titleFontWeight": "bold", "titlePadding": 18}}
  },
  "layer": [
    {
      "data": {"name": "lle"},
      "mark": {"type": "line", "color": "#ff1f78", "strokeWidth": 1.8}
    },
    {
      "data": {"values": [{"t": 200, "t2": 500, "v": 0}]},
      "mark": {"type": "rule", "color": "black", "strokeWidth": 2, "strokeDash": [10, 4, 3, 4]},
      "encoding": {"x2": {"field": "t2"}}
    },
    {
      "data": {"values": [{"t": 204, "v": 10.55, "label": "×10⁶"}]},
      "mark": {"type": "text", "align": "left", "baseline": "alphabetic", "fontSize": 20, "fontWeight": "bold"},
      "encoding": {"text": {"field": "label"}}
    },
    {
      "data": {"values": [{"t": 494, "v": 10.55, "label": "(b)"}]},
      "mark": {"type": "text", "align": "right", "baseline": "alphabetic", "fontSize": 16, "fontWeight": "bold"},
      "encoding": {"text": {"field": "label"}}
    }
  ]
}
]
}
